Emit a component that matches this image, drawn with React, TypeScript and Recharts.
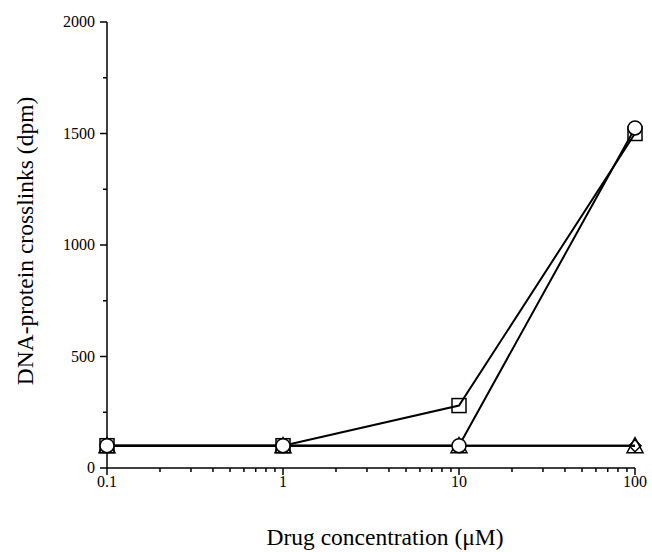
import React from "react";
import { LineChart, Line, XAxis, YAxis } from "recharts";

// the page is shot edge to edge, so drop the default body margin
if (typeof document !== "undefined") document.body.style.margin = "0";

const concentrations = [0.1, 1, 10, 100];
const circleSeries = [100, 100, 100, 1525];
const squareSeries = [100, 100, 280, 1500];
const triangleSeries = [100, 100, 100, 100];
const diamondSeries = [100, 100, 100, 100];

const xTicks = [
  0.1, 0.2, 0.3, 0.4, 0.5, 0.6, 0.7, 0.8, 0.9,
  1, 2, 3, 4, 5, 6, 7, 8, 9,
  10, 20, 30, 40, 50, 60, 70, 80, 90,
  100,
];
const xMajor = [0.1, 1, 10, 100];
const yTicks = [0, 250, 500, 750, 1000, 1250, 1500, 1750, 2000];
const yMajor = [0, 500, 1000, 1500, 2000];

const data = concentrations.map((c, i) => ({
  conc: c,
  circle: circleSeries[i],
  square: squareSeries[i],
  triangle: triangleSeries[i],
  diamond: diamondSeries[i],
}));

const FONT = "'Liberation Serif', 'DejaVu Serif', serif";

const XTick = (props: any) => {
  const { x, y, payload } = props;
  const major = xMajor.includes(payload.value);
  return (
    <g>
      <line x1={x} x2={x} y1={y} y2={y + (major ? 7 : 4)} stroke="#000" strokeWidth={1.5} />
      {major && (
        <text x={x} y={y + 19} textAnchor="middle" fontSize={16} fontFamily={FONT} fill="#000">
          {payload.value}
        </text>
      )}
    </g>
  );
};

const YTick = (props: any) => {
  const { x, y, payload } = props;
  const major = yMajor.includes(payload.value);
  return (
    <g>
      <line x1={x} x2={x - (major ? 7 : 4)} y1={y} y2={y} stroke="#000" strokeWidth={1.5} />
      {major && (
        <text x={x - 12} y={y + 5} textAnchor="end" fontSize={16} fontFamily={FONT} fill="#000">
          {payload.value}
        </text>
      )}
    </g>
  );
};

const makeDot = (shape: string) => (props: any) => {
  const { cx, cy, index } = props;
  const key = `${shape}-${index}`;
  if (cx == null || cy == null) return <g key={key} />;
  if (shape === "circle")
    return <circle key={key} cx={cx} cy={cy} r={7} fill="#fff" stroke="#000" strokeWidth={1.5} />;
  if (shape === "square")
    return (
      <rect key={key} x={cx - 7} y={cy - 7} width={14} height={14} fill="none" stroke="#000" strokeWidth={1.5} />
    );
  if (shape === "triangle")
    return (
      <polygon
        key={key}
        points={`${cx},${cy - 8} ${cx - 8},${cy + 7} ${cx + 8},${cy + 7}`}
        fill="none"
        stroke="#000"
        strokeWidth={1.5}
      />
    );
  return (
    <polygon
      key={key}
      points={`${cx},${cy - 6} ${cx + 6},${cy} ${cx},${cy + 6} ${cx - 6},${cy}`}
      fill="none"
      stroke="#000"
      strokeWidth={1.5}
    />
  );
};

export default function App() {
  return (
    <div style={{ position: "relative", width: 652, height: 552, fontFamily: FONT }}>
      <LineChart width={652} height={552} data={data} margin={{ top: 22, right: 17, bottom: 0, left: 0 }}>
        <XAxis
          dataKey="conc"
          type="number"
          scale="log"
          domain={[0.1, 100]}
          ticks={xTicks}
          interval={0}
          tickSize={0}
          tickMargin={0}
          tickLine={false}
          tick={(p: any) => <XTick {...p} />}
          axisLine={{ stroke: "#000", strokeWidth: 1.5 }}
          height={84}
        />
        <YAxis
          type="number"
          domain={[0, 2000]}
          ticks={yTicks}
          interval={0}
          tickSize={0}
          tickMargin={0}
          tickLine={false}
          tick={(p: any) => <YTick {...p} />}
          axisLine={{ stroke: "#000", strokeWidth: 1.5 }}
          width={107}
        />
        <Line dataKey="triangle" stroke="#000" strokeWidth={2} dot={makeDot("triangle")} isAnimationActive={false} />
        <Line dataKey="diamond" stroke="#000" strokeWidth={2} dot={makeDot("diamond")} isAnimationActive={false} />
        <Line dataKey="square" stroke="#000" strokeWidth={2} dot={makeDot("square")} isAnimationActive={false} />
        <Line dataKey="circle" stroke="#000" strokeWidth={2} dot={makeDot("circle")} isAnimationActive={false} />
      </LineChart>
      <div
        style={{
          position: "absolute",
          left: 385,
          top: 538,
          transform: "translate(-50%, -50%)",
          fontSize: 23.5,
          lineHeight: 1,
          whiteSpace: "nowrap",
        }}
      >
        Drug concentration (μM)
      </div>
      <div
        style={{
          position: "absolute",
          left: 26,
          top: 241,
          transform: "translate(-50%, -50%) rotate(-90deg)",
          fontSize: 23.5,
          lineHeight: 1,
          whiteSpace: "nowrap",
        }}
      >
        DNA-protein crosslinks (dpm)
      </div>
    </div>
  );
}
